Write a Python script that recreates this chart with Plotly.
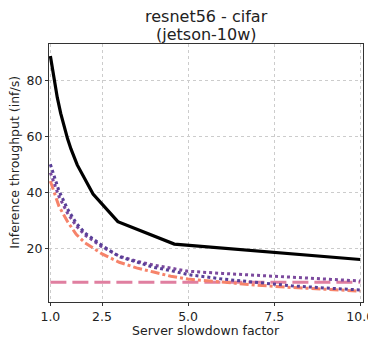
import plotly.graph_objects as go

# Data
x_black = [1.0, 1.1, 1.2, 1.3, 1.4, 1.5, 1.6, 1.78, 2.24, 2.96, 4.6, 10.0]
y_black = [88.7, 80.6, 73.9, 68.2, 63.4, 59.1, 55.4, 49.8, 39.4, 29.5, 21.5, 16.0]

x_curves = [1.0, 1.25, 1.5, 1.75, 2.0, 2.5, 3.0, 3.5, 4.0, 4.5, 5.0, 6.0, 7.0, 8.0, 9.0, 10.0]
y_purple_a = [50.0, 40.5, 34.0, 29.0, 25.5, 21.0, 17.0, 15.0, 13.2, 12.0, 10.6, 9.0, 7.8, 6.6, 5.8, 5.1]
y_purple_b = [47.0, 38.5, 32.5, 28.0, 24.8, 20.5, 17.2, 15.4, 14.0, 12.8, 11.8, 11.0, 10.4, 9.7, 9.0, 8.3]
y_orange = [44.0, 35.0, 29.5, 25.0, 22.0, 18.0, 15.0, 13.0, 11.5, 10.0, 9.0, 7.8, 6.8, 6.0, 5.3, 4.7]

x_const = [1.0, 10.0]
y_const = [7.85, 7.85]

title_lines = ["resnet56 - cifar", "(jetson-10w)"]
x_label = "Server slowdown factor"
y_label = "Inference throughput (inf/s)"
x_ticks = [1.0, 2.5, 5.0, 7.5, 10.0]
x_ticklabels = ["1.0", "2.5", "5.0", "7.5", "10.0"]
y_ticks = [20, 40, 60, 80]

fig = go.Figure()
fig.add_trace(go.Scatter(x=x_const, y=y_const, mode="lines",
                         line=dict(color="#e07fa0", width=3, dash="16px,6px")))
fig.add_trace(go.Scatter(x=x_curves, y=y_orange, mode="lines",
                         line=dict(color="#f6836a", width=3, dash="dashdot")))
fig.add_trace(go.Scatter(x=x_curves, y=y_purple_b, mode="lines",
                         line=dict(color="#7c4a9e", width=3, dash="dot")))
fig.add_trace(go.Scatter(x=x_curves, y=y_purple_a, mode="lines",
                         line=dict(color="#5a3f98", width=3, dash="dot")))
fig.add_trace(go.Scatter(x=x_black, y=y_black, mode="lines",
                         line=dict(color="black", width=3.2)))

font_family = "DejaVu Sans"
axis_common = dict(
    showline=True, linecolor="#333", linewidth=1, mirror=True,
    ticks="outside", ticklen=3, tickcolor="#333",
    showgrid=True, gridcolor="#cccccc", griddash="dot", gridwidth=1,
    zeroline=False, automargin=False,
    tickfont=dict(size=12.5, color="#222", family=font_family),
)
# the page body has an 8px margin, so the figure is 8px smaller than the window
fig.update_layout(
    width=368, height=330,
    margin=dict(l=41, r=13, t=36, b=36),
    paper_bgcolor="white", plot_bgcolor="white",
    showlegend=False,
    font=dict(family=font_family, color="#222"),
)
# title lines (plot area spans 258 px vertically, 314 px horizontally)
fig.add_annotation(text=title_lines[0], xref="paper", yref="paper", x=0.5, y=1.106,
                   xanchor="center", yanchor="middle", showarrow=False, borderpad=0,
                   font=dict(size=16, color="#222", family=font_family))
fig.add_annotation(text=title_lines[1], xref="paper", yref="paper", x=0.5, y=1.037,
                   xanchor="center", yanchor="middle", showarrow=False, borderpad=0,
                   font=dict(size=16, color="#222", family=font_family))
# axis titles
fig.add_annotation(text=x_label, xref="paper", yref="paper", x=0.5, y=-0.111,
                   xanchor="center", yanchor="middle", showarrow=False,
                   font=dict(size=12.5, color="#222", family=font_family))
fig.add_annotation(text=y_label, xref="paper", yref="paper", x=-0.108, y=0.54,
                   xanchor="center", yanchor="middle", showarrow=False, textangle=-90,
                   font=dict(size=12.5, color="#222", family=font_family))
fig.update_xaxes(range=[0.96, 10.08], tickvals=x_ticks, ticktext=x_ticklabels,
                 **axis_common)
fig.update_yaxes(range=[0.8, 93], tickvals=y_ticks, **axis_common)

fig.write_html("out.html")
